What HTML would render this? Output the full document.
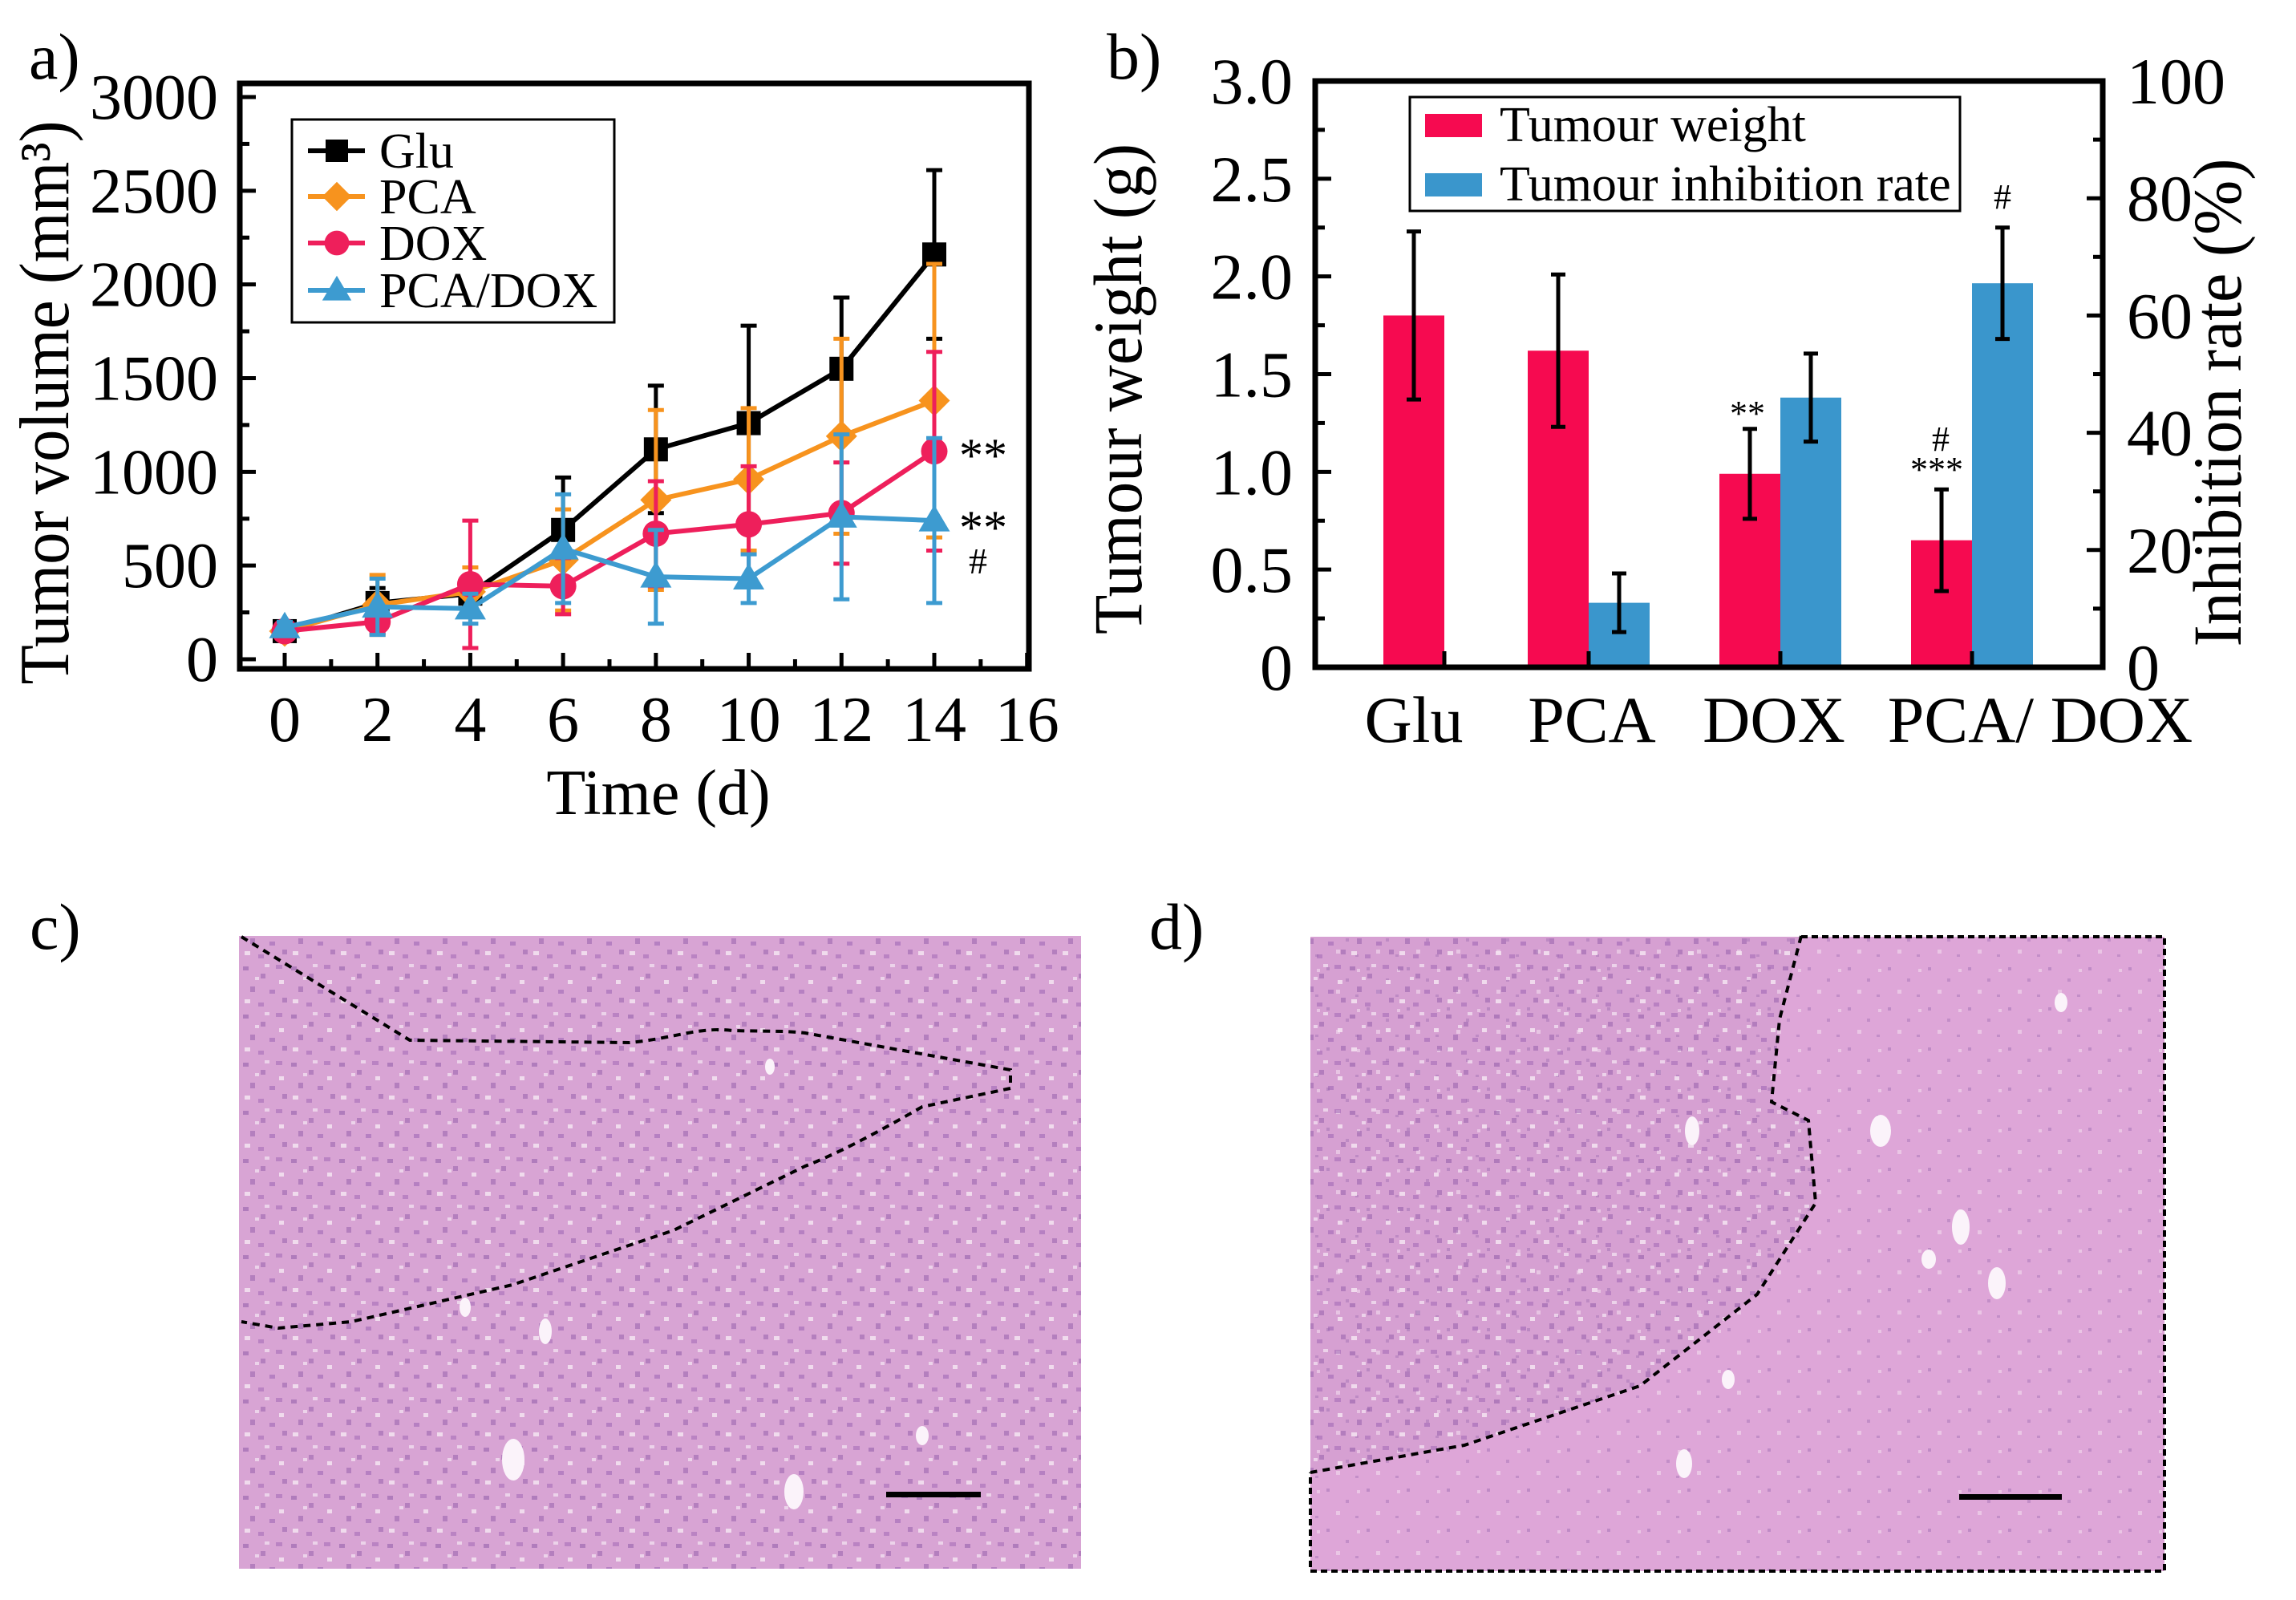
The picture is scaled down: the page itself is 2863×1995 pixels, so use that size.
<!DOCTYPE html>
<html><head><meta charset="utf-8"><style>
html,body{margin:0;padding:0;background:#fff;}
svg{display:block;font-family:"Liberation Serif",serif;}
</style></head><body>
<svg id="fig" width="2863" height="1995" viewBox="0 0 2863 1995" xmlns="http://www.w3.org/2000/svg">
<defs>
<pattern id="tex" width="60" height="60" patternUnits="userSpaceOnUse">
<rect x="3" y="5" width="7" height="5" fill="#8f5aa8" opacity="0.55"/>
<rect x="25" y="14" width="6" height="6" fill="#8f5aa8" opacity="0.5"/>
<rect x="44" y="3" width="8" height="5" fill="#9b62b2" opacity="0.5"/>
<rect x="12" y="30" width="6" height="7" fill="#8f5aa8" opacity="0.5"/>
<rect x="36" y="34" width="7" height="5" fill="#9b62b2" opacity="0.55"/>
<rect x="52" y="44" width="6" height="6" fill="#8f5aa8" opacity="0.5"/>
<rect x="22" y="50" width="7" height="5" fill="#9b62b2" opacity="0.5"/>
<rect x="48" y="22" width="6" height="5" fill="#f6e8f4" opacity="0.8"/>
<rect x="5" y="46" width="7" height="5" fill="#f6e8f4" opacity="0.8"/>
<rect x="30" y="2" width="6" height="4" fill="#f6e8f4" opacity="0.7"/>
<rect x="18" y="18" width="5" height="4" fill="#f6e8f4" opacity="0.7"/>
</pattern>
<pattern id="tex2" width="50" height="50" patternUnits="userSpaceOnUse">
<rect x="4" y="6" width="4" height="4" fill="#9a6ab0" opacity="0.45"/>
<rect x="28" y="20" width="4" height="4" fill="#9a6ab0" opacity="0.4"/>
<rect x="40" y="40" width="4" height="3" fill="#9a6ab0" opacity="0.4"/>
<rect x="16" y="34" width="5" height="5" fill="#f2dcef" opacity="0.6"/>
<rect x="42" y="8" width="4" height="4" fill="#f2dcef" opacity="0.6"/>
</pattern>
</defs>
<g id="panelA"></g>
<g id="panelB"></g>
<g id="panelC">
  <rect x="298" y="1167" width="1050" height="789" fill="#d8a4d4"/>
  <rect x="298" y="1167" width="1050" height="789" fill="url(#tex)"/>
  <g fill="#fbf3fa">
    <ellipse cx="640" cy="1820" rx="14" ry="26"/><ellipse cx="990" cy="1860" rx="12" ry="22"/>
    <ellipse cx="680" cy="1660" rx="8" ry="16"/><ellipse cx="580" cy="1630" rx="7" ry="12"/>
    <ellipse cx="960" cy="1330" rx="6" ry="10"/><ellipse cx="1150" cy="1790" rx="8" ry="12"/>
  </g>
  <path d="M301,1168 L511,1297 L785,1300 C840,1295 870,1280 913,1285 C950,1286 980,1285 1004,1288 L1260,1334 L1260,1357 L1150,1380 C1080,1420 1040,1440 1004,1454 L840,1534 L639,1602 L438,1648 L347,1656 L301,1648" fill="none" stroke="#000" stroke-width="4" stroke-dasharray="9,7"/>
  <rect x="1105" y="1860" width="118" height="7" fill="#000"/>
</g>
<g id="panelD">
  <rect x="1634" y="1168" width="1065" height="791" fill="#dea6d8"/>
  <path d="M1634,1168 L2246,1168 L2219,1271 L2209,1374 L2255,1397 L2264,1500 L2191,1614 L2045,1728 L1826,1802 L1634,1836 Z" fill="#d6a0d2"/>
  <rect x="1634" y="1168" width="1065" height="791" fill="url(#tex2)"/>
  <path d="M1634,1168 L2246,1168 L2219,1271 L2209,1374 L2255,1397 L2264,1500 L2191,1614 L2045,1728 L1826,1802 L1634,1836 Z" fill="url(#tex)"/>
  <g fill="#fbf3fa">
    <ellipse cx="2345" cy="1410" rx="13" ry="20"/><ellipse cx="2445" cy="1530" rx="11" ry="22"/>
    <ellipse cx="2490" cy="1600" rx="11" ry="20"/><ellipse cx="2100" cy="1825" rx="10" ry="18"/>
    <ellipse cx="2110" cy="1410" rx="9" ry="18"/><ellipse cx="2570" cy="1250" rx="8" ry="12"/>
    <ellipse cx="2405" cy="1570" rx="9" ry="12"/><ellipse cx="2155" cy="1720" rx="8" ry="12"/>
  </g>
  <path d="M2246,1167 L2219,1271 L2209,1374 L2255,1397 L2264,1500 L2191,1614 L2045,1728 L1826,1802 L1634,1836" fill="none" stroke="#000" stroke-width="4" stroke-dasharray="9,7"/>
  <path d="M2246,1168 L2699,1168 L2699,1959 L1634,1959 L1634,1836" fill="none" stroke="#000" stroke-width="4" stroke-dasharray="8,5"/>
  <rect x="2443" y="1863" width="128" height="7" fill="#000"/>
</g>
<text x="37" y="1183" font-size="82">c)</text>
<text x="1433" y="1183" font-size="82">d)</text>
</svg>
<script>
// ---------- Panel A data ----------
const days = [0, 2, 4, 6, 8, 10, 12, 14];
const gluMean = [150, 300, 350, 690, 1120, 1260, 1550, 2160];
const gluErr = [30, 80, 60, 280, 340, 520, 380, 450];
const pcaMean = [150, 290, 360, 530, 850, 960, 1190, 1380];
const pcaErr = [30, 160, 130, 270, 480, 380, 520, 730];
const doxMean = [150, 200, 400, 390, 670, 720, 780, 1110];
const doxErr = [30, 60, 340, 150, 280, 310, 270, 530];
const pdMean = [170, 280, 270, 590, 440, 430, 760, 740];
const pdErr = [30, 150, 80, 290, 250, 130, 440, 440];
const yTicksA = [0, 500, 1000, 1500, 2000, 2500, 3000];
const xTicksA = [0, 2, 4, 6, 8, 10, 12, 14, 16];
const seriesNames = ["Glu", "PCA", "DOX", "PCA/DOX"];

// ---------- Panel B data ----------
const groups = ["Glu", "PCA", "DOX", "PCA/ DOX"];
const weightMean = [1.80, 1.62, 0.99, 0.65];
const weightErr = [0.43, 0.39, 0.23, 0.26];
const rateMean = [0, 11, 46, 65.5];
const rateErr = [0, 5, 7.5, 9.5];
const yTicksBLeft = ["0", "0.5", "1.0", "1.5", "2.0", "2.5", "3.0"];
const yTicksBRight = [0, 20, 40, 60, 80, 100];

const NS = "http://www.w3.org/2000/svg";
function mk(parent, tag, attrs) {
  const e = document.createElementNS(NS, tag);
  for (const k in attrs) e.setAttribute(k, attrs[k]);
  parent.appendChild(e);
  return e;
}
function txt(parent, x, y, s, size, anchor) {
  const e = mk(parent, "text", {x: x, y: y, "font-size": size, "text-anchor": anchor || "start"});
  e.textContent = s;
  return e;
}
function vtxt(parent, cx, cy, s, size, len) {
  const e = mk(parent, "text", {"font-size": size, "text-anchor": "middle",
    transform: "translate(" + cx + "," + cy + ") rotate(-90)", textLength: len, lengthAdjust: "spacingAndGlyphs"});
  e.textContent = s;
  return e;
}

// ================= Panel A =================
(function () {
  const g = document.getElementById("panelA");
  const L = 299, R = 1283, T = 104, B = 834;
  const xs = d => 355 + d * (1165 - 355) / 14;
  const ys = v => 822 - v * (822 - 121) / 3000;

  let e = txt(g, 36, 98, "a)", 82, "start");
  
  

  for (let v = 0; v <= 3000; v += 250) {
    const major = v % 500 === 0;
    mk(g, "line", {x1: L, x2: L + (major ? 20 : 12), y1: ys(v), y2: ys(v), stroke: "#000", "stroke-width": 5});
  }
  for (let d = 0; d <= 16; d += 1) {
    const major = d % 2 === 0;
    mk(g, "line", {x1: xs(d), x2: xs(d), y1: B, y2: B - (major ? 20 : 12), stroke: "#000", "stroke-width": 5});
  }
  yTicksA.forEach(v => {
    const t = txt(g, 272, ys(v) + 27, String(v), 80, "end");
    
    
  });
  xTicksA.forEach(d => {
    const t = txt(g, xs(d), 924, String(d), 80, "middle");
    
    
  });
  e = vtxt(g, 85, 502, "Tumor volume (mm³)", 88, 703);
  
  
  e = txt(g, 821, 1015, "Time (d)", 80, "middle");
  
  

  const series = [
    {name: "glu", mean: gluMean, err: gluErr, color: "#000000", marker: "square"},
    {name: "pca", mean: pcaMean, err: pcaErr, color: "#f7931e", marker: "diamond"},
    {name: "dox", mean: doxMean, err: doxErr, color: "#ee1f5b", marker: "circle"},
    {name: "pca-dox", mean: pdMean, err: pdErr, color: "#3d9bd0", marker: "triangle"}
  ];
  function marker(parent, type, x, y, color, s) {
    if (type === "square") return mk(parent, "rect", {x: x - s, y: y - s, width: 2 * s, height: 2 * s, fill: color});
    if (type === "diamond") return mk(parent, "polygon", {points: [x, y - s * 1.3, x + s * 1.3, y, x, y + s * 1.3, x - s * 1.3, y].join(","), fill: color});
    if (type === "circle") return mk(parent, "circle", {cx: x, cy: y, r: s * 1.1, fill: color});
    return mk(parent, "polygon", {points: [x, y - s * 1.3, x + s * 1.3, y + s * 0.9, x - s * 1.3, y + s * 0.9].join(","), fill: color});
  }
  series.forEach(sr => {
    const sg = mk(g, "g", {});
    
    
    days.forEach((d, i) => {
      const x = xs(d), y1 = ys(sr.mean[i] + sr.err[i]), y2 = ys(Math.max(0, sr.mean[i] - sr.err[i]));
      const eb = mk(sg, "path", {d: "M" + x + "," + y1 + "V" + y2 + "M" + (x - 10) + "," + y1 + "H" + (x + 10) + "M" + (x - 10) + "," + y2 + "H" + (x + 10), stroke: sr.color, "stroke-width": 5, fill: "none"});
      
      
    });
    const pts = days.map((d, i) => xs(d) + "," + ys(sr.mean[i])).join(" ");
    const ln = mk(sg, "polyline", {points: pts, fill: "none", stroke: sr.color, "stroke-width": 6});
    
    
    days.forEach((d, i) => {
      const m = marker(sg, sr.marker, xs(d), ys(sr.mean[i]), sr.color, 15);
      
      
    });
  });

  mk(g, "rect", {x: L, y: T, width: R - L, height: B - T, fill: "none", stroke: "#000", "stroke-width": 7});

  const lg = mk(g, "g", {});
  
  
  mk(lg, "rect", {x: 364, y: 149, width: 402, height: 253, fill: "#fff", stroke: "#000", "stroke-width": 3});
  const rows = [188, 245, 303, 362];
  series.forEach((sr, i) => {
    const eg = mk(lg, "g", {});
    
    
    mk(eg, "line", {x1: 384, x2: 455, y1: rows[i], y2: rows[i], stroke: sr.color, "stroke-width": 6});
    marker(eg, sr.marker, 420, rows[i], sr.color, 14);
    txt(eg, 473, rows[i] + 21, seriesNames[i], 62, "start");
  });

  const s1 = txt(g, 1196, 588, "**", 60, "start");
  
  
  const s2 = txt(g, 1196, 678, "**", 60, "start");
  
  
  const s3 = txt(g, 1208, 715, "#", 46, "start");
  
  
})();

// ================= Panel B =================
(function () {
  const g = document.getElementById("panelB");
  const L = 1640, R = 2622, T = 101, B = 832;
  const yl = v => B - v * (B - T) / 3;
  const yr = v => B - v * (B - T) / 100;
  const centers = [1801, 1981, 2220, 2459];
  const bw = 76;

  let e = txt(g, 1380, 98, "b)", 82, "start");
  
  

  for (let v = 0; v <= 3.0001; v += 0.25) {
    const major = Math.abs(v * 2 - Math.round(v * 2)) < 1e-6;
    mk(g, "line", {x1: L, x2: L + (major ? 20 : 12), y1: yl(v), y2: yl(v), stroke: "#000", "stroke-width": 5});
  }
  for (let v = 0; v <= 100; v += 10) {
    const major = v % 20 === 0;
    mk(g, "line", {x1: R, x2: R - (major ? 20 : 12), y1: yr(v), y2: yr(v), stroke: "#000", "stroke-width": 5});
  }
  yTicksBLeft.forEach((s, i) => {
    const t = txt(g, 1612, yl(i * 0.5) + 28, s, 82, "end");
    
    
  });
  yTicksBRight.forEach(v => {
    const t = txt(g, 2652, yr(v) + 28, String(v), 82, "start");
    
    
  });
  e = vtxt(g, 1423, 485, "Tumour weight (g)", 86, 612);
  
  
  e = vtxt(g, 2794, 502, "Inhibition rate (%)", 86, 609);
  
  

  const labelCenters = [1763, 1985, 2212, 2544];
  groups.forEach((s, i) => {
    const t = txt(g, labelCenters[i], 925, s, 82, "middle");
    
    
  });

  groups.forEach((name, i) => {
    const c = centers[i];
    const b1 = mk(g, "rect", {x: c - bw, y: yl(weightMean[i]), width: bw, height: B - yl(weightMean[i]), fill: "#f60a50"});
    
    
    const xm = c - bw / 2;
    const e1 = mk(g, "path", {d: "M" + xm + "," + yl(weightMean[i] + weightErr[i]) + "V" + yl(weightMean[i] - weightErr[i]) +
      "M" + (xm - 9) + "," + yl(weightMean[i] + weightErr[i]) + "H" + (xm + 9) + "M" + (xm - 9) + "," + yl(weightMean[i] - weightErr[i]) + "H" + (xm + 9),
      stroke: "#000", "stroke-width": 5, fill: "none"});
    
    
    if (rateMean[i] > 0) {
      const b2 = mk(g, "rect", {x: c, y: yr(rateMean[i]), width: bw, height: B - yr(rateMean[i]), fill: "#3a96cc"});
      
      
      const xr = c + bw / 2;
      const e2 = mk(g, "path", {d: "M" + xr + "," + yr(rateMean[i] + rateErr[i]) + "V" + yr(rateMean[i] - rateErr[i]) +
        "M" + (xr - 9) + "," + yr(rateMean[i] + rateErr[i]) + "H" + (xr + 9) + "M" + (xr - 9) + "," + yr(rateMean[i] - rateErr[i]) + "H" + (xr + 9),
        stroke: "#000", "stroke-width": 5, fill: "none"});
      
      
    }
    mk(g, "line", {x1: c, x2: c, y1: B, y2: B - 20, stroke: "#000", "stroke-width": 5});
  });

  mk(g, "rect", {x: L, y: T, width: R - L, height: B - T, fill: "none", stroke: "#000", "stroke-width": 7});

  const lg = mk(g, "g", {});
  
  
  mk(lg, "rect", {x: 1758, y: 121, width: 686, height: 142, fill: "#fff", stroke: "#000", "stroke-width": 3});
  const l1 = mk(lg, "g", {});
  
  
  mk(l1, "rect", {x: 1777, y: 142, width: 71, height: 29, fill: "#f60a50"});
  txt(l1, 1870, 176, "Tumour weight", 62, "start");
  const l2 = mk(lg, "g", {});
  
  
  mk(l2, "rect", {x: 1777, y: 216, width: 71, height: 29, fill: "#3a96cc"});
  txt(l2, 1870, 250, "Tumour inhibition rate", 62, "start");

  const ann = [[2179, 530, "**"], [2420, 562, "#"], [2415, 600, "***"], [2497, 260, "#"]];
  ann.forEach(a => {
    const t = txt(g, a[0], a[1], a[2], 44, "middle");
    
    
  });
})();
</script>
</body></html>
